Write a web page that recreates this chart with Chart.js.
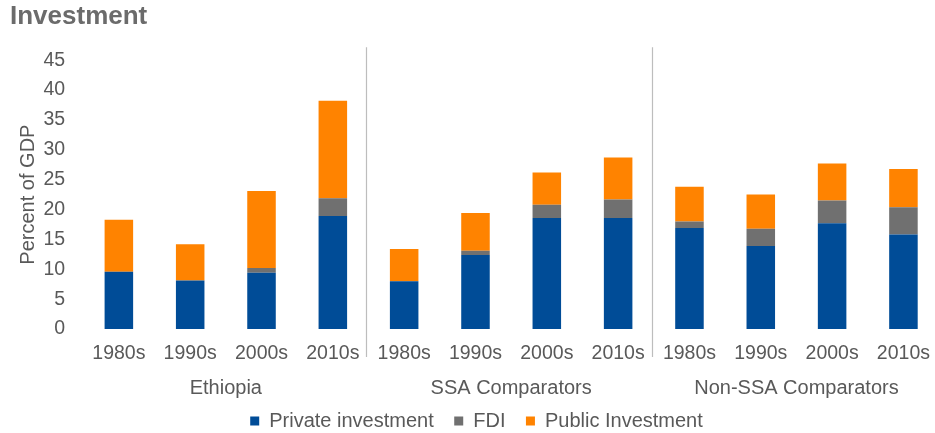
<!DOCTYPE html>
<html>
<head>
<meta charset="utf-8">
<script src="https://cdn.jsdelivr.net/npm/chart.js@4/dist/chart.umd.min.js"></script>
<style>
html,body{margin:0;padding:0;background:#fff;overflow:hidden}
#wrap{position:relative;width:943px;height:433px}
</style>
</head>
<body>
<div id="wrap"><canvas id="c"></canvas></div>
<script>
const decades = ['1980s', '1990s', '2000s', '2010s'];
const groups = ['Ethiopia', 'SSA Comparators', 'Non-SSA Comparators'];
const privateInvestment = [9.6, 8.1, 9.4, 18.9, 8.0, 12.4, 18.6, 18.6, 16.9, 13.9, 17.7, 15.8];
const fdi = [0, 0, 0.8, 3.0, 0, 0.7, 2.2, 3.1, 1.1, 2.9, 3.8, 4.6];
const publicInvestment = [8.7, 6.1, 12.9, 16.3, 5.4, 6.3, 5.4, 7.0, 5.8, 5.7, 6.2, 6.4];
const yTicks = { min: 0, max: 45, step: 5 };

const labels = groups.flatMap(() => decades);
const FONT = "'Liberation Sans', Arial, sans-serif";
const TXT = '#595959';

const separators = {
  id: 'separators',
  afterDraw(chart) {
    const x = chart.scales.x, area = chart.chartArea, ctx = chart.ctx;
    const n = decades.length;
    ctx.save();
    ctx.strokeStyle = '#bdbdbd';
    ctx.lineWidth = 1.2;
    for (let g = 1; g < groups.length; g++) {
      const i = g * n;
      const px = Math.round((x.getPixelForValue(i - 1) + x.getPixelForValue(i)) / 2) - 1.5;
      ctx.beginPath();
      ctx.moveTo(px, area.top - 13);
      ctx.lineTo(px, area.bottom + 28);
      ctx.stroke();
    }
    ctx.restore();
  }
};

new Chart(document.getElementById('c'), {
  type: 'bar',
  data: {
    labels: labels,
    datasets: [
      { label: 'Private investment', data: privateInvestment, backgroundColor: '#004C97' },
      { label: 'FDI', data: fdi, backgroundColor: '#707070' },
      { label: 'Public Investment', data: publicInvestment, backgroundColor: '#FF8300' }
    ]
  },
  options: {
    responsive: true,
    maintainAspectRatio: false,
    animation: false,
    datasets: { bar: { categoryPercentage: 1, barPercentage: 0.4, borderWidth: 0 } },
    layout: { padding: { left: 10, right: 0, top: 0, bottom: -8 } },
    plugins: {
      title: {
        display: true, text: 'Investment', align: 'start',
        color: '#6b6b6b',
        font: { family: FONT, size: 26, weight: 'bold' },
        padding: { top: 1, bottom: 28 }
      },
      legend: {
        position: 'bottom',
        labels: {
          color: TXT, boxWidth: 9, boxHeight: 9, padding: 20.5,
          font: { family: FONT, size: 20 }
        }
      },
      tooltip: { enabled: false }
    },
    scales: {
      x: {
        stacked: true,
        grid: { display: false, drawTicks: false },
        border: { display: false },
        ticks: { color: TXT, padding: 13, font: { family: FONT, size: 19.5 }, maxRotation: 0, autoSkip: false },
        afterFit(scale) { scale.height = 35; }
      },
      x2: {
        type: 'category',
        position: 'bottom',
        weight: 1,
        labels: groups,
        offset: true,
        grid: { display: false, drawTicks: false },
        border: { display: false },
        ticks: { color: TXT, padding: 12, font: { family: FONT, size: 20 }, maxRotation: 0, autoSkip: false },
        afterFit(scale) {
          scale.height = 26.5;
          scale._computeLabelArea = function () { return undefined; };
        }
      },
      y: {
        stacked: true,
        min: yTicks.min, max: yTicks.max,
        grid: { display: false, drawTicks: false },
        border: { display: false },
        ticks: { stepSize: yTicks.step, autoSkip: false, color: TXT, padding: 18, font: { family: FONT, size: 19.5 } },
        title: { display: true, text: 'Percent of GDP', color: TXT, font: { family: FONT, size: 20 }, padding: { top: 6, bottom: 0 } },
        afterFit(scale) { scale.width = 73.2; }
      }
    }
  },
  plugins: [separators]
});
</script>
</body>
</html>
